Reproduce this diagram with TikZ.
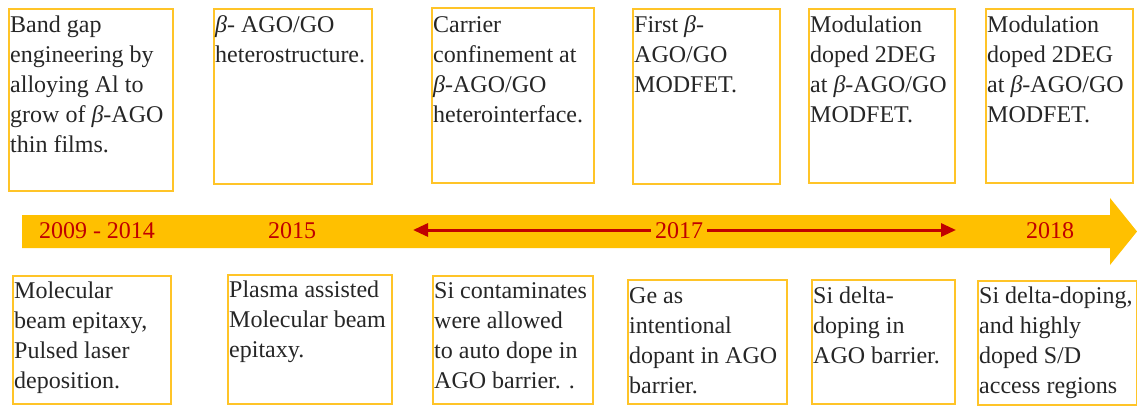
\documentclass[tikz,border=0pt]{standalone}
\usepackage{fontspec}
\setmainfont{Liberation Serif}
\usetikzlibrary{arrows.meta}
\definecolor{band}{RGB}{255,192,0}
\definecolor{boxline}{RGB}{255,196,40}
\definecolor{yearred}{RGB}{192,0,0}
\tikzset{
  evbox/.style={draw=boxline, line width=1.6pt, fill=none, inner sep=0pt},
  evtext/.style={anchor=north west, inner sep=0pt, align=left, text=black!85,
    font=\rmfamily\fontsize{24}{30}\selectfont},
  yeartext/.style={text=yearred, inner sep=4pt, font=\rmfamily\fontsize{24}{30}\selectfont},
  redarrow/.style={draw=yearred, line width=3pt, -{Triangle[length=15pt,width=13pt]}}
}
\newcommand{\firstline}{\vrule height 19pt depth 0pt width 0pt}
\newcommand{\bt}{\textit{β}}
\begin{document}
\begin{tikzpicture}[x=1pt,y=-1pt]
\useasboundingbox (0,0) rectangle (1137,406);
% timeline band
\fill[band] (22,215) -- (1110,215) -- (1110,198) -- (1137,231.5) -- (1110,265) -- (1110,248) -- (22,248) -- cycle;
% top boxes
\node[evbox, minimum width=164pt, minimum height=182pt, anchor=north west] (t1) at (8,8) {};
\node[evbox, minimum width=158pt, minimum height=175pt, anchor=north west] (t2) at (213,8) {};
\node[evbox, minimum width=162pt, minimum height=175pt, anchor=north west] (t3) at (431,7) {};
\node[evbox, minimum width=147pt, minimum height=175pt, anchor=north west] (t4) at (632,8) {};
\node[evbox, minimum width=146pt, minimum height=174pt, anchor=north west] (t5) at (808,8) {};
\node[evbox, minimum width=147pt, minimum height=174pt, anchor=north west] (t6) at (985,8) {};
\node[evtext] (tt1) at (10,13) {\firstline Band gap\\engineering by\\alloying Al to\\grow of \bt-AGO\\thin films.};
\node[evtext] (tt2) at (215,13) {\firstline\bt- AGO/GO\\heterostructure.};
\node[evtext] (tt3) at (433,13) {\firstline Carrier\\confinement at\\\bt-AGO/GO\\heterointerface.};
\node[evtext] (tt4) at (634,13) {\firstline First \bt-\\AGO/GO\\MODFET.};
\node[evtext] (tt5) at (810,13) {\firstline Modulation\\doped 2DEG\\at \bt-AGO/GO\\MODFET.};
\node[evtext] (tt6) at (987,13) {\firstline Modulation\\doped 2DEG\\at \bt-AGO/GO\\MODFET.};
% bottom boxes
\node[evbox, minimum width=158pt, minimum height=128pt, anchor=north west] (b1) at (12,275) {};
\node[evbox, minimum width=164pt, minimum height=129pt, anchor=north west] (b2) at (227,274) {};
\node[evbox, minimum width=160pt, minimum height=128pt, anchor=north west] (b3) at (432,275) {};
\node[evbox, minimum width=159pt, minimum height=124pt, anchor=north west] (b4) at (627,279) {};
\node[evbox, minimum width=143pt, minimum height=124pt, anchor=north west] (b5) at (811,279) {};
\node[evbox, minimum width=159pt, minimum height=124pt, anchor=north west] (b6) at (977,280) {};
\node[evtext] (bt1) at (14,279) {\firstline Molecular\\beam epitaxy,\\Pulsed laser\\deposition.};
\node[evtext] (bt2) at (229,278) {\firstline Plasma assisted\\Molecular beam\\epitaxy.};
\node[evtext] (bt3) at (434,279) {\firstline Si contaminates\\were allowed\\to auto dope in\\AGO barrier. .};
\node[evtext] (bt4) at (629,284) {\firstline Ge as\\intentional\\dopant in AGO\\barrier.};
\node[evtext] (bt5) at (813,284) {\firstline Si delta-\\doping in\\AGO barrier.};
\node[evtext] (bt6) at (979,284) {\firstline Si delta-doping,\\and highly\\doped S/D\\access regions};
% years
\node[yeartext] (y1) at (97,231) {2009 - 2014};
\node[yeartext] (y2) at (292,231) {2015};
\node[yeartext] (y3) at (679,231) {2017};
\node[yeartext] (y4) at (1050,231) {2018};
% red double arrow
\coordinate (la) at (413,230);
\coordinate (ra) at (956,230);
\draw[redarrow] (y3.west |- la) -- (la);
\draw[redarrow] (y3.east |- ra) -- (ra);
\end{tikzpicture}
\end{document}
